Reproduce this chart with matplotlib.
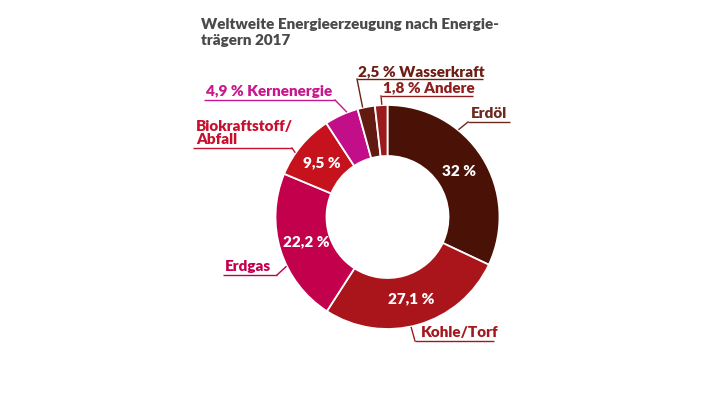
import numpy as np
import matplotlib
matplotlib.use("Agg")
import matplotlib.pyplot as plt

plt.rcParams.update({
    "font.family": ["Lato", "DejaVu Sans"],
    "font.weight": "heavy",
})

# --------------------------------------------------
# data
# --------------------------------------------------
categories = ["Erdöl", "Kohle/Torf", "Erdgas", "Biokraftstoff/\nAbfall",
              "Kernenergie", "Wasserkraft", "Andere"]
shares = [32.0, 27.1, 22.2, 9.5, 4.9, 2.5, 1.8]
inner_labels = ["32 %", "27,1 %", "22,2 %", "9,5 %", "", "", ""]
outer_labels = ["Erdöl", "Kohle/Torf", "Erdgas", "Biokraftstoff/\nAbfall",
                "4,9 % Kernenergie", "2,5 % Wasserkraft", "1,8 % Andere"]
title = "Weltweite Energieerzeugung nach Energie-\nträgern 2017"

wedge_colors = ["#4a1206", "#aa151b", "#c2004b", "#c5121d",
                "#c20f89", "#631a10", "#9b1a1b"]
label_colors = ["#6b2a1f", "#a3181f", "#c4004e", "#c8102e",
                "#c8168c", "#6e1e14", "#8e1e1e"]

W, H = 705, 397
cx, cy, R, r_in = 387.5, 217, 112, 61

fig = plt.figure(figsize=(W / 100, H / 100), dpi=100)
ax = fig.add_axes([0, 0, 1, 1])

wedges, _ = ax.pie(
    shares,
    colors=wedge_colors,
    startangle=90,
    counterclock=False,
    center=(cx, H - cy),
    radius=R,
    wedgeprops=dict(width=R - r_in, edgecolor="white", linewidth=1.3),
)
ax.set_xlim(0, W)
ax.set_ylim(0, H)
ax.set_aspect("equal")
ax.axis("off")


def edge_point(w, frac, rad):
    # point on wedge, frac measured clockwise from the wedge's start
    ang = np.deg2rad(w.theta2 - (w.theta2 - w.theta1) * frac)
    return cx + rad * np.cos(ang), (H - cy) + rad * np.sin(ang)


# percent labels inside the ring
for w, lab in zip(wedges, inner_labels):
    if not lab:
        continue
    x, y = edge_point(w, 0.5, 85)
    ax.text(x, y, lab, color="white", fontsize=11, ha="center", va="center")

# outer labels: (text x, baseline y, underline x0, x1, underline y, leader side, frac)
layout = [
    (471, 118, 468, 510, 122, "left", 0.34),
    (421, 337, 415, 494, 341, "left", 0.54),
    (225, 271, 223, 277, 275, "right", 0.39),
    (196, 144, 193, 292, 148, "right", 0.36),
    (206, 96, 204, 335, 100, "right", 0.67),
    (358, 76, 357, 483, 79, "left", 0.30),
    (383, 92, 381, 473, 96, "left", 0.55),
]

for w, lab, col, (tx, ty, ux0, ux1, uy, side, frac) in zip(
        wedges, outer_labels, label_colors, layout):
    ax.text(tx, H - ty, lab, color=col, fontsize=11, ha="left", va="baseline",
            linespacing=1.0)
    ax.plot([ux0, ux1], [H - uy, H - uy], color=col, lw=1.0,
            solid_capstyle="butt")
    ex, ey = edge_point(w, frac, R + 1)
    sx = ux0 if side == "left" else ux1
    ax.plot([sx, ex], [H - uy, ey], color=col, lw=1.0)

ax.text(201, H - 45, title, color="#4a4a4a", fontsize=11, ha="left",
        va="baseline", linespacing=1.25)

plt.savefig("out.png", dpi=100)
plt.close()
